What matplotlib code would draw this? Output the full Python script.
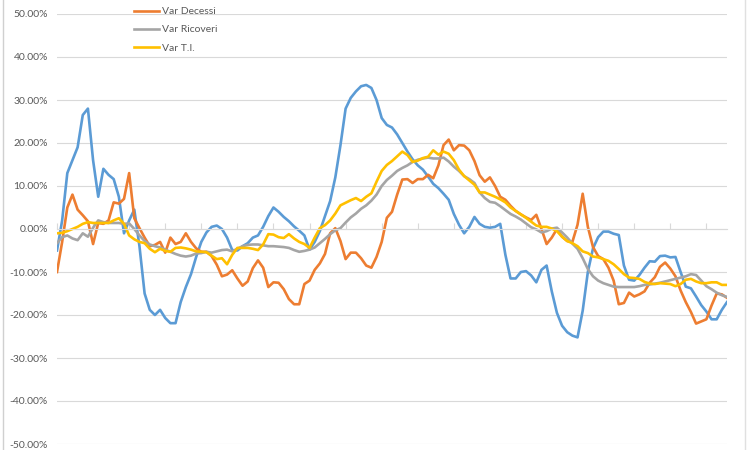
import matplotlib
matplotlib.use("Agg")
import matplotlib.pyplot as plt
from matplotlib.lines import Line2D
from matplotlib.ticker import FuncFormatter, MultipleLocator

# valori in percentuale, un punto per giorno
var_casi = [
    -5, 2, 13, 16, 19, 26.5, 28, 16, 7.5, 14,
    12.6, 11.6, 7.5, -1, 2, 4.5, -4, -15, -18.8, -20,
    -18.8, -20.7, -21.9, -21.9, -17, -13.5, -10.5, -6.5, -3, -0.8,
    0.5, 0.8, 0, -2, -4.9, -5, -4, -3.3, -2, -1.5,
    0.5, 3, 5, 4, 2.8, 1.8, 0.6, -0.4, -1.5, -4.8,
    -3, -0.5, 3, 6.5, 12, 19.5, 28, 30.5, 32, 33.2,
    33.5, 32.8, 30, 25.8, 24.2, 23.6, 22, 20, 18, 16.2,
    14.8, 13.8, 12.2, 10.5, 9.5, 8.2, 6.8, 3.5, 1, -1,
    0.5, 2.8, 1.2, 0.5, 0.3, 0.5, 1.2, -6, -11.5, -11.5,
    -10, -9.8, -10.8, -12.4, -9.5, -8.5, -14.5, -19.5, -22.5, -24,
    -24.8, -25.2, -19, -10, -4.5, -1.9, -0.6, -0.6, -1.1, -1.4,
    -8.5, -11.8, -12, -10.7, -9, -7.5, -7.6, -6.3, -6.2, -6.6,
    -6.5, -10, -13.4, -13.8, -15.7, -17.7, -19.2, -21, -21, -18.8,
    -17,
]
var_decessi = [
    -10, -3, 5, 8, 4.5, 3.2, 1.8, -3.5, 1.4, 1.2,
    2, 6.2, 5.9, 7, 13, 2.5, 0.2, -2, -4, -3.7,
    -3, -5.5, -2, -3.5, -3, -1, -3, -4.5, -5.3, -5.3,
    -6.3, -8.3, -11, -10.6, -9.6, -11.5, -13.2, -12.2, -9.1, -7.3,
    -9, -13.5, -12.4, -12.5, -14, -16.3, -17.5, -17.5, -12.8, -12,
    -9.5, -8, -5.8, -1, 0.2, -2.8, -7, -5.5, -5.5, -6.8,
    -8.5, -9, -6.5, -3, 2.6, 4, 8, 11.5, 11.6, 10.7,
    11.6, 11.6, 12.6, 11.8, 14.8, 19.5, 20.8, 18.3, 19.5, 19.4,
    18.3, 15.8, 12.5, 11, 12, 10, 7.5, 6.8, 5.4, 4.2,
    3.4, 2.7, 2.1, 3.3, 0, -3.5, -2, 0, -1.8, -2.8,
    -3, 1, 8.2, 0.5, -4.2, -6.3, -7, -9, -12, -17.5,
    -17.2, -14.8, -15.7, -15.2, -14.5, -12.5, -11.2, -8.8, -7.8, -9.2,
    -11, -14.3, -17, -19.3, -22, -21.5, -21, -17.8, -15, -15.2,
    -16,
]
var_ricoveri = [
    -3.3, -1.9, -1.5, -2.2, -2.6, -1, -1.8, 0.3, 2, 1.6,
    1.4, 1.4, 1.4, 1.2, 1.3, 0, -1.5, -2.8, -3.6, -4,
    -4.3, -4.8, -5.3, -5.8, -6.2, -6.4, -6.2, -5.7, -5.6, -5.3,
    -5.5, -5.2, -4.9, -4.8, -5.2, -4.6, -4, -3.7, -3.6, -3.6,
    -3.8, -4, -4, -4.1, -4.2, -4.4, -4.9, -5.3, -5.1, -4.8,
    -4.3, -3.3, -2.3, -1.2, -0.3, 0.2, 1.5, 2.7, 3.6, 4.7,
    5.5, 6.6, 8, 10, 11.4, 12.4, 13.5, 14.2, 14.8, 15.6,
    16.1, 16.4, 16.6, 16.4, 16.4, 16.6, 15.7, 14.5, 13.5, 12.3,
    11.6, 10.7, 8.5, 7.2, 6.3, 6.1, 5.3, 4.4, 3.5, 2.9,
    2.2, 1.3, 0.4, -0.1, -0.8, -0.5, 0.1, 0.3, -0.8, -2,
    -3.4, -4.6, -6.8, -9.3, -11, -12, -12.6, -13, -13.4, -13.5,
    -13.5, -13.5, -13.5, -13.3, -13, -12.9, -12.7, -12.5, -12.2, -11.9,
    -11.6, -11.3, -11, -10.5, -10.7, -12, -13.3, -14, -14.8, -15.4,
    -15.8,
]
var_ti = [
    -1, -0.9, -0.5, 0, 0.5, 1.2, 1.6, 1.4, 1.4, 1.4,
    1.4, 2, 2.5, 1.2, -1.5, -2.4, -3, -3.3, -4.6, -5.4,
    -4.6, -5.1, -5.3, -4.4, -4.3, -4.5, -4.8, -5.2, -5.3, -5.4,
    -6.2, -7, -6.8, -8.2, -6, -4.4, -4.4, -4.4, -4.6, -4.9,
    -3.6, -1.2, -1.3, -1.9, -2.1, -1.2, -2.2, -3, -3.5, -4.4,
    -2, 0.2, 0.9, 2, 3.6, 5.5, 6.1, 6.7, 7.2, 6.5,
    7.5, 8.3, 11, 13.5, 14.9, 15.8, 16.9, 18, 17.2, 15.6,
    15.9, 16.5, 16.8, 18.3, 17.3, 18, 17.5, 16, 13.8, 12.3,
    11.3, 10.3, 8.5, 8.5, 8, 7.5, 6.9, 6.2, 5, 4.2,
    3.4, 2.6, 1.7, 0.8, 0.5, 0.5, 0.1, -0.5, -1.8, -2.8,
    -3.3, -4, -5.2, -5.6, -6.4, -6.6, -7, -7.4, -8.2, -9.3,
    -10.5, -11.3, -11.4, -11.6, -12.3, -12.7, -12.8, -12.6, -12.7, -12.8,
    -13.3, -12.8, -11.8, -11.6, -12.2, -12.6, -12.6, -12.4, -12.4, -13,
    -13,
]

serie = [
    (var_casi, "#5B9BD5", "_Var Casi"),
    (var_decessi, "#ED7D31", "Var Decessi"),
    (var_ricoveri, "#A5A5A5", "Var Ricoveri"),
    (var_ti, "#FFC000", "Var T.I."),
]

plt.rcParams["font.family"] = ["Lato", "DejaVu Sans"]

fig = plt.figure(figsize=(7.5, 4.5), dpi=100)
ax = fig.add_axes([57 / 750, 6 / 450, 670 / 750, 430 / 450])

for valori, colore, nome in serie:
    ax.plot(range(len(valori)), [v / 100 for v in valori], color=colore,
            linewidth=1.9, label=nome, solid_joinstyle="round")

ax.set_xlim(0, len(var_casi) - 1)
ax.set_ylim(-0.5, 0.5)
ax.yaxis.set_major_locator(MultipleLocator(0.1))
ax.yaxis.set_major_formatter(FuncFormatter(lambda y, _: f"{y * 100:.2f}%"))
ax.tick_params(axis="y", length=0, pad=6.5, labelsize=7.5, labelcolor="#595959")
ax.grid(axis="y", color="#D9D9D9", linewidth=0.8)
ax.set_axisbelow(True)

# asse delle categorie sullo zero
ax.set_xticks(range(0, len(var_casi), 7))
ax.set_xticklabels([])
ax.tick_params(axis="x", direction="in", length=4, color="#D9D9D9", width=0.8)
ax.spines["bottom"].set_position(("data", 0))
ax.spines["bottom"].set_color("#D9D9D9")
for lato in ["top", "right", "left"]:
    ax.spines[lato].set_visible(False)

ax.legend(loc="upper left", bbox_to_anchor=(134 / 750, 1 - 7 / 450),
          bbox_transform=fig.transFigure, frameon=False, fontsize=7.5,
          labelcolor="#595959", handlelength=2.4, handletextpad=0.25,
          labelspacing=0.85, borderpad=0, borderaxespad=0)

# bordi del foglio ai lati
fig.add_artist(Line2D([3 / 750, 3 / 750], [0, 1], color="#D0D0D0", linewidth=1))
fig.add_artist(Line2D([745 / 750, 745 / 750], [0, 1], color="#E0E0E0", linewidth=1))

fig.savefig("out.png", dpi=100, facecolor="white")
